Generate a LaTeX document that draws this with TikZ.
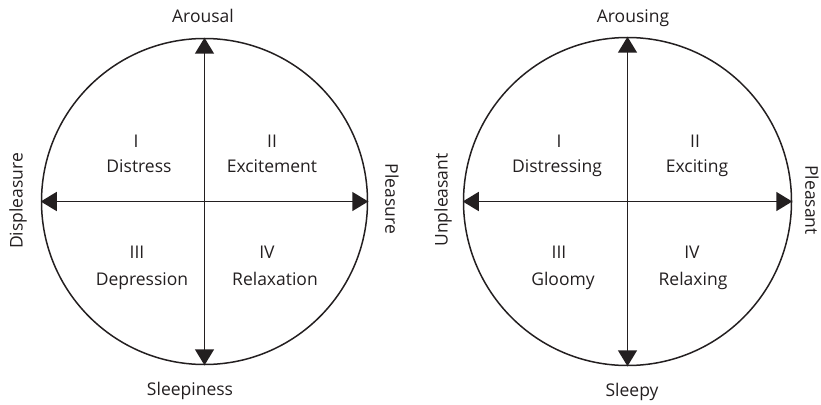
\documentclass[tikz,border=0pt]{standalone}
\usepackage{fontspec}
\setmainfont{Open Sans}
\usetikzlibrary{arrows.meta}
\definecolor{ink}{HTML}{231F20}
\begin{document}
\begin{tikzpicture}[x=1pt,y=-1pt,
  ring/.style={circle,draw=ink,line width=1.5pt,inner sep=0pt,minimum size=#1},
  axis/.style={draw=ink,line width=1.6pt,{Triangle[length=16pt,width=19pt]}-{Triangle[length=16pt,width=19pt]}},
  lbl/.style={text=ink,font=\fontsize{17.5}{20}\selectfont,inner sep=0pt,anchor=base},
  side/.style={text=ink,font=\fontsize{17.5}{20}\selectfont,inner sep=0pt,anchor=center}]
\useasboundingbox (0,0) rectangle (821,404);

% left circle: affect dimensions
\node[ring=326pt] (L) at (204.5,201.5) {};
\draw[axis] (L.west) -- (L.east);
\draw[axis] (L.north) -- (L.south);
\node[lbl] (la) at (203,23) {Arousal};
\node[lbl] (ls) at (190,395) {Sleepiness};
\node[side,rotate=90] (ld) at (18,201) {Displeasure};
\node[side,rotate=-90] (lp) at (392,199) {Pleasure};
\node[lbl] (l1) at (136,147) {I};
\node[lbl] (l1t) at (139,172) {Distress};
\node[lbl] (l2) at (272,147) {II};
\node[lbl] (l2t) at (272,172) {Excitement};
\node[lbl] (l3) at (137,258) {III};
\node[lbl] (l3t) at (142,285) {Depression};
\node[lbl] (l4) at (267,258) {IV};
\node[lbl] (l4t) at (275,285) {Relaxation};

% right circle: perceived qualities
\node[ring=328pt] (R) at (627.5,201.5) {};
\draw[axis] (R.west) -- (R.east);
\draw[axis] (R.north) -- (R.south);
\node[lbl] (ra) at (633,23) {Arousing};
\node[lbl] (rs) at (632,396) {Sleepy};
\node[side,rotate=90] (ru) at (443,200) {Unpleasant};
\node[side,rotate=-90] (rp) at (812,200) {Pleasant};
\node[lbl] (r1) at (559,147) {I};
\node[lbl] (r1t) at (557,172) {Distressing};
\node[lbl] (r2) at (695,147) {II};
\node[lbl] (r2t) at (697,172) {Exciting};
\node[lbl] (r3) at (559,258) {III};
\node[lbl] (r3t) at (563,285) {Gloomy};
\node[lbl] (r4) at (692,258) {IV};
\node[lbl] (r4t) at (693,285) {Relaxing};
\end{tikzpicture}
\end{document}
